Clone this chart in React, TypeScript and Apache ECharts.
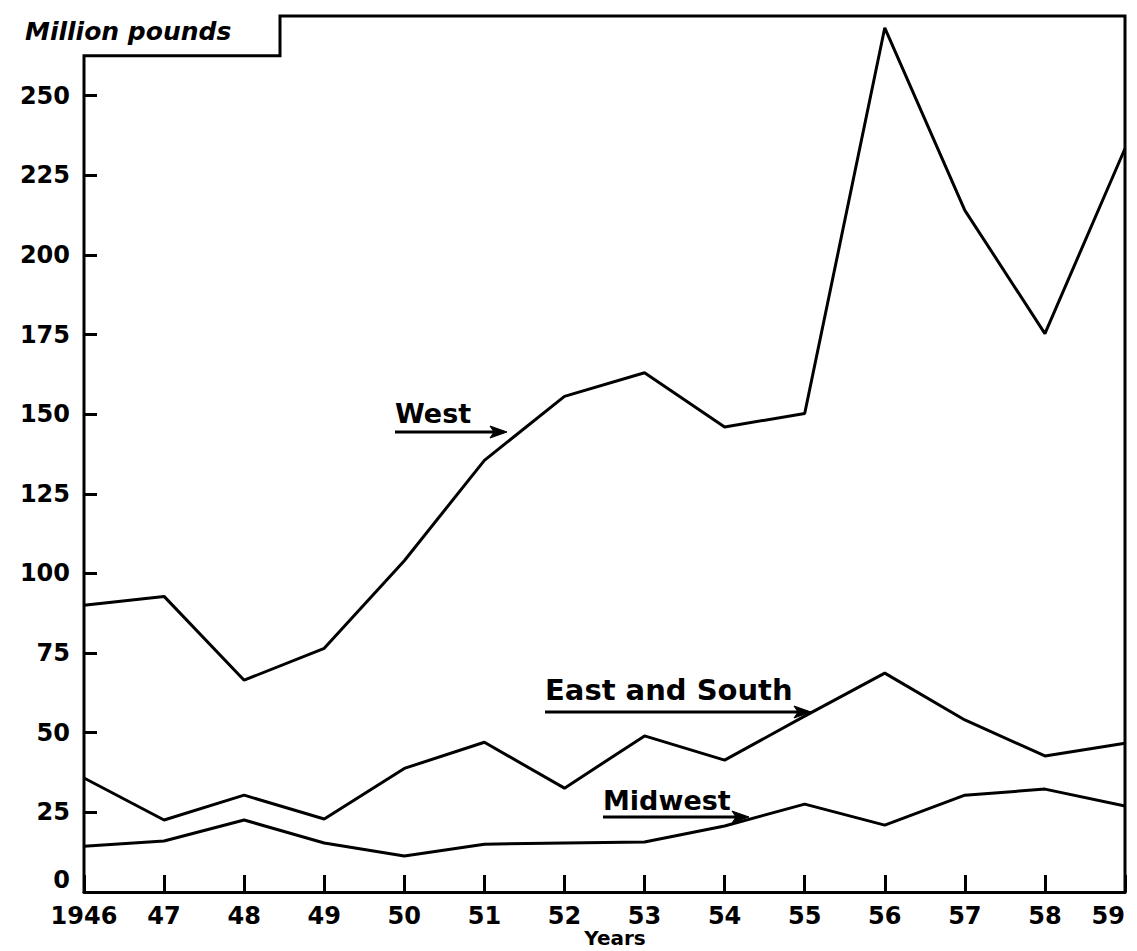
import React, { useEffect, useRef } from "react";
import * as echarts from "echarts";

const years = ["1946", "47", "48", "49", "50", "51", "52", "53", "54", "55", "56", "57", "58", "59"];
const west = [90, 92.8, 66.5, 76.5, 104, 135.5, 155.6, 163, 146, 150.2, 271.3, 214, 175.3, 233.4];
const eastSouth = [35.8, 22.6, 30.4, 22.9, 38.8, 47, 32.6, 49, 41.4, 55.2, 68.7, 54, 42.7, 46.7];
const midwest = [14.4, 16, 22.6, 15.4, 11.3, 15, 15.4, 15.7, 20.7, 27.6, 21, 30.4, 32.3, 27];
const yTicks = [0, 25, 50, 75, 100, 125, 150, 175, 200, 225, 250];

const FONT = "DejaVu Sans";

export default function App() {
  const ref = useRef<HTMLDivElement>(null);
  useEffect(() => {
    const chart = echarts.init(ref.current!, null, { renderer: "svg" });
    const lineSeries = (name: string, data: number[]) => ({
      name,
      type: "line",
      data,
      showSymbol: false,
      symbol: "none",
      lineStyle: { color: "#000", width: 3 },
      itemStyle: { color: "#000" },
      z: 3,
    });
    chart.setOption({
      animation: false,
      backgroundColor: "#fff",
      grid: {
        left: 84,
        right: 12,
        top: 16,
        bottom: 59,
        containLabel: false,
        outerBoundsMode: "none",
      },
      xAxis: {
        type: "category",
        data: years,
        boundaryGap: false,
        axisLine: { lineStyle: { color: "#000", width: 3 } },
        axisTick: { inside: true, length: 17, lineStyle: { color: "#000", width: 3 } },
        axisLabel: {
          interval: 0,
          color: "#000",
          fontFamily: FONT,
          fontWeight: "bold",
          fontSize: 24,
          margin: 12,
          hideOverlap: false,
          alignMaxLabel: "right",
        },
        splitLine: { show: false },
      },
      yAxis: {
        type: "value",
        min: 0,
        max: 275,
        interval: 25,
        axisLine: { show: false },
        axisTick: {
          show: true,
          inside: true,
          length: 13,
          customValues: yTicks,
          lineStyle: { color: "#000", width: 3 },
        },
        axisLabel: {
          customValues: yTicks,
          color: "#000",
          fontFamily: FONT,
          fontWeight: "bold",
          fontSize: 24,
          margin: 14,
          verticalAlignMinLabel: "bottom",
        },
        splitLine: { show: false },
      },
      series: [
        lineSeries("West", west),
        lineSeries("East and South", eastSouth),
        lineSeries("Midwest", midwest),
      ],
    });

    const p = (xi: number, v: number) => chart.convertToPixel({ gridIndex: 0 }, [xi, v]) as number[];
    const [x0, y0] = p(0, 0);
    const [, yAx] = p(0, 262.5);
    const [xR, yTop] = p(years.length - 1, 275);
    const boxX = 280;

    const arrow = (xs: number, xe: number, y: number) => [
      {
        type: "line",
        shape: { x1: xs, y1: y, x2: xe - 6, y2: y },
        style: { stroke: "#000", lineWidth: 3 },
      },
      {
        type: "polygon",
        shape: { points: [[xe, y], [xe - 17, y - 6], [xe - 13, y], [xe - 17, y + 6]] },
        style: { fill: "#000", stroke: "#000", lineWidth: 1 },
      },
    ];
    const label = (text: string, x: number, y: number, size: number) => ({
      type: "text",
      x,
      y,
      style: {
        text,
        fill: "#000",
        font: `bold ${size}px '${FONT}'`,
        verticalAlign: "middle",
        align: "left",
      },
    });

    chart.setOption({
      graphic: [
        {
          type: "polyline",
          shape: {
            points: [
              [x0, y0 + 1],
              [x0, yAx],
              [boxX, yAx],
              [boxX, yTop],
              [xR, yTop],
              [xR, y0 + 1],
            ],
          },
          style: { stroke: "#000", lineWidth: 3, fill: null },
          z: 10,
        },
        {
          type: "text",
          x: 25,
          y: 31,
          style: {
            text: "Million pounds",
            fill: "#000",
            font: `italic bold 25px '${FONT}'`,
            verticalAlign: "middle",
            align: "left",
          },
        },
        {
          type: "text",
          x: 615,
          y: 938,
          style: {
            text: "Years",
            fill: "#000",
            font: `bold 20px '${FONT}'`,
            verticalAlign: "middle",
            align: "center",
          },
        },
        label("West", 395, 413, 27),
        ...arrow(395, 507, 432),
        label("East and South", 545, 690, 29),
        ...arrow(545, 811, 712),
        label("Midwest", 603, 800, 27),
        ...arrow(603, 749, 817),
      ],
    });
    return () => chart.dispose();
  }, []);
  return (
    <div
      ref={ref}
      style={{ position: "fixed", left: 0, top: 0, width: 1137, height: 951, background: "#fff" }}
    />
  );
}
